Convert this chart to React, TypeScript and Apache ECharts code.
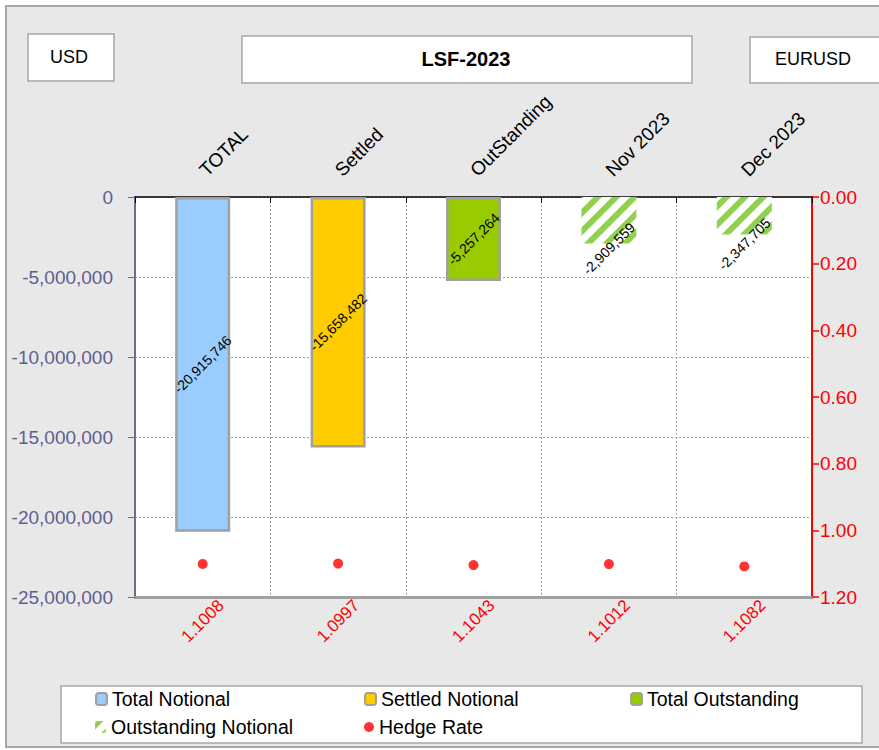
import React, { useEffect, useRef } from 'react';
import * as echarts from 'echarts';

const categories = ['TOTAL', 'Settled', 'OutStanding', 'Nov 2023', 'Dec 2023'];
const notionalValues = [-20915746, -15658482, -5257264, -2909559, -2347705];
const hedgeRates = [1.1008, 1.0997, 1.1043, 1.1012, 1.1082];
const barSeriesNames = ['Total Notional', 'Settled Notional', 'Total Outstanding', 'Outstanding Notional'];
const seriesOfCategory = [0, 1, 2, 3, 3];
const hedgeName = 'Hedge Rate';
const headerLeft = 'USD';
const headerTitle = 'LSF-2023';
const headerRight = 'EURUSD';

const FONT = '"Liberation Sans", Arial, sans-serif';

export default function App() {
  const ref = useRef<HTMLDivElement>(null);
  useEffect(() => {
    if (!ref.current) return;
    const chart = echarts.init(ref.current, undefined, { renderer: 'svg' });
    const styles: any[] = [
      { color: '#99ccff', borderColor: '#a0a0a0', borderWidth: 2.5 },
      { color: '#ffcc00', borderColor: '#a0a0a0', borderWidth: 2.5 },
      { color: '#99cc00', borderColor: '#a0a0a0', borderWidth: 2.5 },
      {
        color: '#ffffff',
        borderWidth: 0,
        decal: {
          symbol: 'rect',
          color: '#92d050',
          dashArrayX: [1, 0],
          dashArrayY: [6, 7],
          rotation: -Math.PI / 4,
        },
      },
    ];
    const barSeries = barSeriesNames.map((name, si) => ({
      name,
      type: 'bar',
      stack: 'n',
      barWidth: 55,
      xAxisIndex: 0,
      yAxisIndex: 0,
      itemStyle: styles[si],
      label: {
        show: true,
        position: 'inside',
        rotate: 45,
        fontFamily: FONT,
        fontSize: 14,
        color: '#000',
        formatter: (p: any) => Number(p.value).toLocaleString('en-US'),
      },
      data: notionalValues.map((v, ci) => {
        if (seriesOfCategory[ci] !== si) return null;
        if (si === 3) return { value: v, label: { offset: [-20, 20] } };
        return v;
      }),
    }));

    const legendCommon = {
      itemWidth: 11,
      itemHeight: 12,
      padding: 0,
      textStyle: { fontFamily: FONT, fontSize: 19.5, color: '#000' },
    };

    chart.setOption({
      animation: false,
      backgroundColor: '#ffffff',
      textStyle: { fontFamily: FONT },
      graphic: [
        { type: 'rect', z: -100, shape: { x: 6, y: 6, width: 900, height: 741 }, style: { fill: '#e8e8e8', stroke: '#a6a6a6', lineWidth: 2 } },
        { type: 'rect', z: -50, shape: { x: 28, y: 34, width: 86, height: 47 }, style: { fill: '#fff', stroke: '#a6a6a6', lineWidth: 1.5 } },
        { type: 'text', z: -40, x: 69, y: 57, style: { text: headerLeft, font: `18px ${FONT}`, fill: '#000', align: 'center', verticalAlign: 'middle' } },
        { type: 'rect', z: -50, shape: { x: 242, y: 36, width: 450, height: 47 }, style: { fill: '#fff', stroke: '#a6a6a6', lineWidth: 1.5 } },
        { type: 'text', z: -40, x: 466, y: 59, style: { text: headerTitle, font: `bold 20px ${FONT}`, fill: '#000', align: 'center', verticalAlign: 'middle' } },
        { type: 'rect', z: -50, shape: { x: 750, y: 37, width: 140, height: 46 }, style: { fill: '#fff', stroke: '#a6a6a6', lineWidth: 1.5 } },
        { type: 'text', z: -40, x: 813, y: 59, style: { text: headerRight, font: `18px ${FONT}`, fill: '#000', align: 'center', verticalAlign: 'middle' } },
        { type: 'rect', z: -50, shape: { x: 61, y: 686, width: 801, height: 57 }, style: { fill: '#fff', stroke: '#a6a6a6', lineWidth: 1.5 } },
      ],
      grid: {
        left: 135,
        right: 67,
        top: 197,
        bottom: 153,
        show: true,
        backgroundColor: '#ffffff',
        borderWidth: 0,
      },
      legend: [
        { ...legendCommon, data: [barSeriesNames[0]], left: 95, top: 689 },
        { ...legendCommon, data: [barSeriesNames[1]], left: 364, top: 689 },
        { ...legendCommon, data: [barSeriesNames[2]], left: 630, top: 689 },
        { ...legendCommon, data: [barSeriesNames[3]], left: 95, top: 717 },
        { ...legendCommon, data: [hedgeName], left: 364, top: 717, itemWidth: 10, itemHeight: 10 },
      ],
      xAxis: [
        {
          type: 'category',
          position: 'top',
          data: categories,
          boundaryGap: true,
          axisLine: { show: true, onZero: false, lineStyle: { color: '#000', width: 1.5 } },
          axisTick: { show: true, inside: true, length: 6, lineStyle: { color: '#000' } },
          axisLabel: {
            rotate: -45,
            margin: 24,
            align: 'left',
            verticalAlign: 'middle',
            fontFamily: FONT,
            fontSize: 19,
            color: '#000',
          },
          splitLine: { show: true, lineStyle: { color: '#a0a0a0', type: [2, 2], width: 1 } },
        },
        {
          type: 'category',
          position: 'bottom',
          data: hedgeRates.map((r) => r.toFixed(4)),
          boundaryGap: true,
          axisLine: { show: true, onZero: false, lineStyle: { color: '#a0a0a0', width: 3 } },
          axisTick: { show: false },
          axisLabel: {
            rotate: 45,
            margin: 24,
            align: 'center',
            verticalAlign: 'middle',
            fontFamily: FONT,
            fontSize: 17,
            color: '#ff0000',
          },
          splitLine: { show: false },
        },
      ],
      yAxis: [
        {
          type: 'value',
          min: -25000000,
          max: 0,
          interval: 5000000,
          position: 'left',
          axisLine: { show: true, lineStyle: { color: '#6b6b99', width: 2 } },
          axisTick: { show: true, length: 7, lineStyle: { color: '#6b6b99' } },
          axisLabel: {
            margin: 22,
            fontFamily: FONT,
            fontSize: 19,
            color: '#5f5f91',
            formatter: (v: number) => v.toLocaleString('en-US'),
          },
          splitLine: { show: true, lineStyle: { color: '#a0a0a0', type: [2, 2], width: 1 } },
        },
        {
          type: 'value',
          min: 0,
          max: 1.2,
          interval: 0.2,
          inverse: true,
          position: 'right',
          axisLine: { show: true, lineStyle: { color: '#ff0000', width: 2 } },
          axisTick: { show: true, length: 7, lineStyle: { color: '#ff0000', width: 1.5 } },
          axisLabel: {
            margin: 8,
            fontFamily: FONT,
            fontSize: 19,
            color: '#ff0000',
            formatter: (v: number) => v.toFixed(2),
          },
          splitLine: { show: false },
        },
      ],
      series: [
        ...barSeries,
        {
          name: hedgeName,
          type: 'scatter',
          xAxisIndex: 0,
          yAxisIndex: 1,
          symbol: 'circle',
          symbolSize: 10,
          itemStyle: { color: '#ff0000' },
          data: hedgeRates,
          z: 5,
        },
      ],
    });
    return () => chart.dispose();
  }, []);
  return (
    <div
      ref={ref}
      style={{ position: 'absolute', left: 0, top: 0, width: 879, height: 750 }}
    />
  );
}
